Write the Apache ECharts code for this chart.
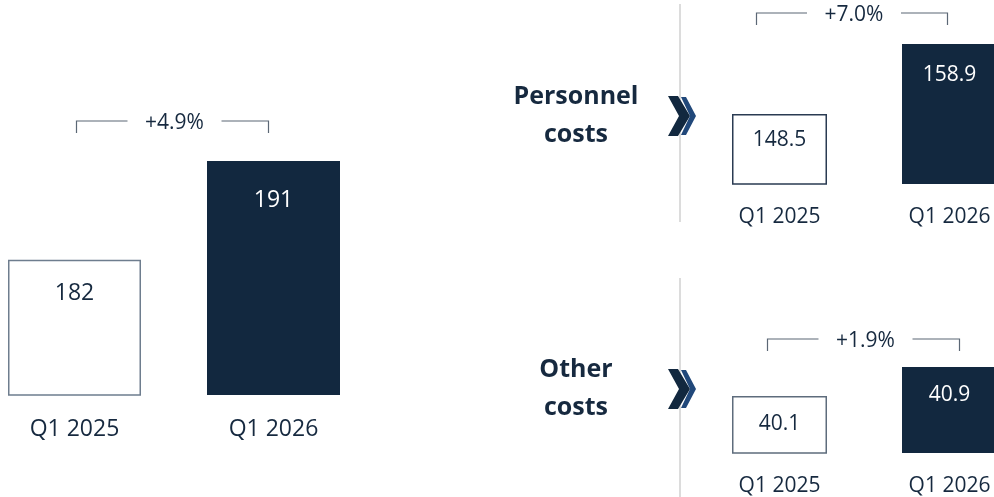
<!DOCTYPE html>
<html>
<head>
<meta charset="utf-8">
<script src="https://cdn.jsdelivr.net/npm/echarts@6/dist/echarts.min.js"></script>
<style>
  html, body { margin: 0; padding: 0; background: #fff; }
  #chart { width: 994px; height: 497px; }
</style>
</head>
<body>
<div id="chart"></div>
<script>
const categories = ['Q1 2025', 'Q1 2026'];
const totalCosts = [182, 191];
const personnelCosts = [148.5, 158.9];
const otherCosts = [40.1, 40.9];
const changeLabels = ['+4.9%', '+7.0%', '+1.9%'];
const panelTitles = ['Personnel\ncosts', 'Other\ncosts'];

const navy = '#12283f';
const textColor = '#16293f';
const font = '"Open Sans", "Noto Sans", sans-serif';

const chart = echarts.init(document.getElementById('chart'));

// grids: left big chart, right top and right bottom
// x axis is a value axis (category index) so panels can sit right at the page edges
const grids = [
  { left: 4.85, width: 368.15, top: 161, height: 234 },
  { left: 694.5, width: 299.2, top: 44, height: 140 },
  { left: 694.5, width: 299.2, top: 367, height: 89 },
];
const xRanges = [[-0.35, 1.5], [-0.5, 1.26], [-0.5, 1.26]];
const yRanges = [[169.7, 191], [138.1, 158.9], [38.53, 40.9]];
const seriesData = [totalCosts, personnelCosts, otherCosts];
const barWidths = [133, 95, 95];
const labelSizes = [23, 21, 21];
const labelDistances = [[22, 28], [16, 21], [17, 18]];
const oldBorder = ['#6e7d8e', '#2a3b52', '#5e6c7c'];

const makeData = (values, i) =>
  values.map((v, j) => ({
    value: [j, v],
    itemStyle: j === 0
      ? { color: '#ffffff', borderColor: oldBorder[i], borderWidth: 1.5 }
      : { color: navy },
    label: { color: j === 0 ? textColor : '#ffffff', distance: labelDistances[i][j] },
  }));

const option = {
  animation: false,
  backgroundColor: '#ffffff',
  grid: grids,
  xAxis: grids.map((g, i) => ({
    type: 'value',
    gridIndex: i,
    min: xRanges[i][0],
    max: xRanges[i][1],
    splitLine: { show: false },
    axisLine: { show: false },
    axisTick: { show: false },
    axisLabel: {
      customValues: categories.map((c, j) => j),
      formatter: (v) => categories[Math.round(v)],
      color: textColor,
      fontSize: labelSizes[i],
      fontFamily: font,
      margin: 23,
    },
  })),
  yAxis: grids.map((g, i) => ({
    type: 'value',
    gridIndex: i,
    show: false,
    min: yRanges[i][0],
    max: yRanges[i][1],
    splitLine: { show: false },
  })),
  series: seriesData.map((values, i) => ({
    type: 'bar',
    xAxisIndex: i,
    yAxisIndex: i,
    barWidth: barWidths[i],
    clip: true,
    data: makeData(values, i),
    label: {
      show: true,
      position: 'insideTop',
      fontSize: labelSizes[i],
      fontFamily: font,
      formatter: (p) => String(p.value[1]),
    },
  })),
};

chart.setOption(option);

// brackets showing growth, anchored on the bars
const bracketOffsets = [[2, -5, 40], [-23, -2, 31], [-12, 10, 28]];
const graphics = [];
seriesData.forEach((values, i) => {
  const finder = { xAxisIndex: i, yAxisIndex: i };
  const p0 = chart.convertToPixel(finder, [0, values[0]]);
  const p1 = chart.convertToPixel(finder, [1, values[1]]);
  const [dx0, dx1, rise] = bracketOffsets[i];
  const x0 = p0[0] + dx0;
  const x1 = p1[0] + dx1;
  const y = p1[1] - rise;
  const mid = (x0 + x1) / 2 + 2;
  const lineStyle = { stroke: '#5b6775', lineWidth: 1.2, fill: null };
  graphics.push(
    { type: 'polyline', shape: { points: [[x0, y + 12], [x0, y], [mid - 47, y]] }, style: lineStyle },
    { type: 'polyline', shape: { points: [[mid + 47, y], [x1, y], [x1, y + 12]] }, style: lineStyle },
    {
      type: 'text',
      style: {
        text: changeLabels[i], x: mid, y: y + 2, textAlign: 'center', textVerticalAlign: 'middle',
        font: '21px ' + font, fill: textColor,
      },
    }
  );
});

// separators, titles and chevrons of the right panels
const panelCenters = [116, 389];
graphics.push(
  { type: 'line', shape: { x1: 680, y1: 4, x2: 680, y2: 222 }, style: { stroke: '#dcdcdc', lineWidth: 2 } },
  { type: 'line', shape: { x1: 680, y1: 278, x2: 680, y2: 497 }, style: { stroke: '#dcdcdc', lineWidth: 2 } }
);
panelCenters.forEach((cy, i) => {
  graphics.push(
    {
      type: 'text',
      style: {
        text: panelTitles[i], x: 576, y: cy, textAlign: 'center', textVerticalAlign: 'middle',
        font: 'bold 25px ' + font, fill: textColor, lineHeight: 38,
      },
    },
    {
      type: 'polygon',
      shape: { points: [[681, cy - 19], [686, cy - 19], [696, cy], [686, cy + 19], [681, cy + 19], [690, cy]] },
      style: { fill: '#21487a' },
    },
    {
      type: 'polygon',
      shape: { points: [[668, cy - 20], [678, cy - 20], [690, cy], [678, cy + 20], [668, cy + 20], [679, cy]] },
      style: { fill: navy },
    }
  );
});

chart.setOption({ graphic: graphics });
</script>
</body>
</html>
